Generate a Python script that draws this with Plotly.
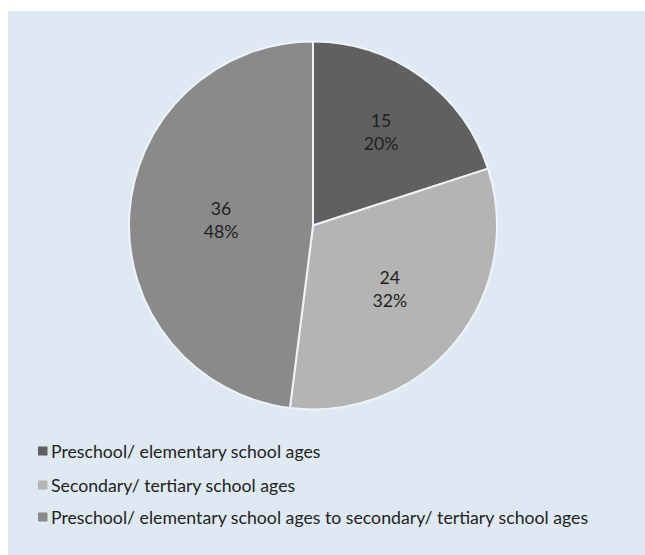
import plotly.graph_objects as go

labels = [
    "Preschool/ elementary school ages",
    "Secondary/ tertiary school ages",
    "Preschool/ elementary school ages to secondary/ tertiary school ages",
]
values = [15, 24, 36]
colors = ["#606060", "#b4b4b4", "#8a8a8a"]

W, H = 645, 555
FONT = "Lato, Roboto, sans-serif"
BG = "#dfe9f4"

cx, cy, r = 313, 225.5, 184

fig = go.Figure(
    go.Pie(
        labels=labels,
        values=values,
        sort=False,
        direction="clockwise",
        rotation=0,
        marker=dict(colors=colors, line=dict(color="#eef3f9", width=2)),
        texttemplate="%{value}<br>%{percent:.0%}",
        textposition="inside",
        insidetextorientation="horizontal",
        textfont=dict(family=FONT, size=17.7, color="#231f20"),
        domain=dict(x=[(cx - r) / W, (cx + r) / W], y=[1 - (cy + r) / H, 1 - (cy - r) / H]),
        showlegend=False,
        hoverinfo="label+value+percent",
    )
)

shapes = [
    dict(type="rect", xref="paper", yref="paper", x0=8 / W, x1=1, y0=0, y1=1 - 11 / H,
         fillcolor=BG, line=dict(width=0), layer="below")
]
annotations = []
leg_y = [451, 485, 517]
for lab, col, yy in zip(labels, colors, leg_y):
    shapes.append(dict(type="rect", xref="paper", yref="paper",
                       x0=38 / W, x1=47.5 / W, y0=1 - (yy + 4.5) / H, y1=1 - (yy - 4.5) / H,
                       fillcolor=col, line=dict(width=0)))
    annotations.append(dict(text=lab, xref="paper", yref="paper", x=49 / W, y=1 - yy / H,
                            xanchor="left", yanchor="middle", showarrow=False,
                            font=dict(family=FONT, size=17.7, color="#231f20")))

fig.update_layout(
    width=W, height=H,
    margin=dict(l=0, r=0, t=0, b=0),
    paper_bgcolor="white",
    plot_bgcolor="white",
    shapes=shapes,
    annotations=annotations,
)

fig.write_html("out.html")
